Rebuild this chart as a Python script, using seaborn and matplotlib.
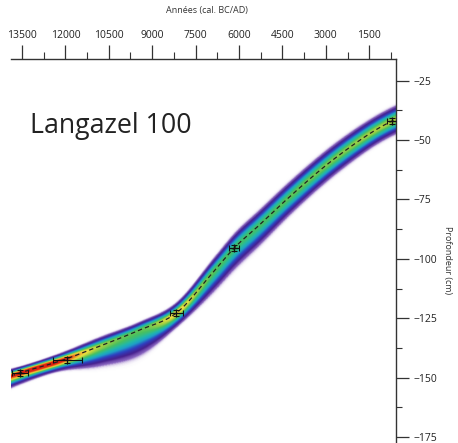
import numpy as np
import pandas as pd
import seaborn as sns
import matplotlib.pyplot as plt
from matplotlib.colors import LinearSegmentedColormap
from matplotlib.ticker import MultipleLocator

# age-depth model (years cal. BC, depth in cm)
model_years = [13880, 13569, 12187, 10804, 9422, 8167, 6785, 6163, 5299, 4262, 2534, 713, 574]
model_depth = [-149.3, -148.0, -143.0, -136.7, -129.9, -122.8, -104.0, -95.4, -85.8, -74.0, -56.3, -42.0, -41.2]
# spread of the model above / below the mean (cm)
sigma_up = [1.1, 1.0, 1.2, 1.5, 1.4, 1.7, 2.3, 2.5, 2.6, 2.6, 2.5, 2.3, 2.3]
sigma_down = [1.9, 1.8, 1.6, 3.4, 4.4, 2.4, 3.6, 3.8, 3.6, 3.2, 2.8, 2.5, 2.5]

# dated levels
date_years = [13569, 11930, 8167, 6163, 713]
date_depth = [-148.0, -142.6, -122.8, -95.4, -42.0]
date_err = [275, 500, 230, 170, 170]

year_ticks = [13500, 12000, 10500, 9000, 7500, 6000, 4500, 3000, 1500]
depth_ticks = [-175, -150, -125, -100, -75, -50, -25]

sns.set_style("white")
plt.rcParams['font.family'] = ['Open Sans', 'DejaVu Sans']

fig = plt.figure(figsize=(4.58, 4.43), dpi=100)
ax = fig.add_axes([11 / 458, 0, 385 / 458, 384 / 443])

order = np.argsort(model_years)
xs = np.array(model_years, float)[order]
yr = np.linspace(574, 13880, 900)
dp = np.linspace(-177.5, -15.9, 700)


def hermite(xn, yn, x):
    # cubic curve through the nodes (catmull-rom style tangents)
    yn = np.asarray(yn, float)
    m = np.gradient(yn, xn)
    i = np.clip(np.searchsorted(xn, x) - 1, 0, len(xn) - 2)
    h = xn[i + 1] - xn[i]
    t = (x - xn[i]) / h
    h00 = 2 * t**3 - 3 * t**2 + 1
    h10 = t**3 - 2 * t**2 + t
    h01 = -2 * t**3 + 3 * t**2
    h11 = t**3 - t**2
    return h00 * yn[i] + h10 * h * m[i] + h01 * yn[i + 1] + h11 * h * m[i + 1]


c = hermite(xs, np.array(model_depth)[order], yr)
su = hermite(xs, np.array(sigma_up)[order], yr)
sd = hermite(xs, np.array(sigma_down)[order], yr)
d = dp[:, None] - c[None, :]
s = np.where(d > 0, su[None, :], sd[None, :])
dens = 2 / (np.sqrt(2 * np.pi) * (su + sd))[None, :] * np.exp(-0.5 * (d / s) ** 2)

cmap = LinearSegmentedColormap.from_list("bacon", [
    (0.00, (1, 1, 1, 0)),
    (0.03, '#8a66c0'),
    (0.08, '#46208e'),
    (0.17, '#2f3fc0'),
    (0.28, '#1e9ec8'),
    (0.38, '#22b8a8'),
    (0.50, '#48c060'),
    (0.62, '#a8d040'),
    (0.72, '#f0e040'),
    (0.85, '#f09028'),
    (1.00, '#e02010'),
])
ax.imshow(dens, extent=[574, 13880, -177.5, -15.9], origin='lower', aspect='auto',
          cmap=cmap, vmin=0, vmax=0.26, interpolation='bilinear', zorder=0)

line = pd.DataFrame({'year': yr, 'depth': c})
line = line[(line.year > 650) & (line.year < 13800)]
sns.lineplot(data=line, x='year', y='depth', ax=ax, color='#222222', lw=0.9,
             linestyle=(0, (3.5, 2.5)), sort=False, zorder=3)
ax.errorbar(date_years, date_depth, xerr=date_err, yerr=1.4, fmt='none', ecolor='#111111',
            elinewidth=0.8, capsize=2.2, capthick=0.8, zorder=4)
sns.scatterplot(x=date_years, y=date_depth, ax=ax, marker='+', s=30, color='#111111',
                linewidth=0.9, zorder=5)

ax.set_xlim(13880, 574)
ax.set_ylim(-177.5, -15.9)

for side in ['left', 'bottom']:
    ax.spines[side].set_visible(False)
for side in ['top', 'right']:
    ax.spines[side].set_color('#333333')
    ax.spines[side].set_linewidth(1.0)

ax.xaxis.tick_top()
ax.yaxis.tick_right()
ax.set_xticks(year_ticks)
ax.set_yticks(depth_ticks)
ax.xaxis.set_minor_locator(MultipleLocator(750))
ax.yaxis.set_minor_locator(MultipleLocator(12.5))
ax.tick_params(axis='x', which='major', length=10, width=0.9, color='#333333', pad=3,
               labelsize=7.5, labelcolor='#222222')
ax.tick_params(axis='x', which='minor', length=5, width=0.8, color='#333333')
ax.tick_params(axis='y', which='major', length=9.5, width=0.9, color='#333333', pad=3,
               labelsize=7.5, labelcolor='#222222')
ax.tick_params(axis='y', which='minor', length=4.5, width=0.8, color='#333333')

ax.set_xlabel('Années (cal. BC/AD)', fontsize=6.5, color='#333333')
ax.xaxis.set_label_position('top')
ax.xaxis.set_label_coords(0.509, 1.12)
ax.set_ylabel('Profondeur (cm)', fontsize=6.5, color='#333333', rotation=270, va='center')
ax.yaxis.set_label_position('right')
ax.yaxis.set_label_coords(1.145, 0.477)

ax.text(0.049, 0.807, 'Langazel 100', transform=ax.transAxes, fontsize=19.3,
        color='#222222', va='baseline', ha='left')

fig.savefig('out.png', dpi=100)
